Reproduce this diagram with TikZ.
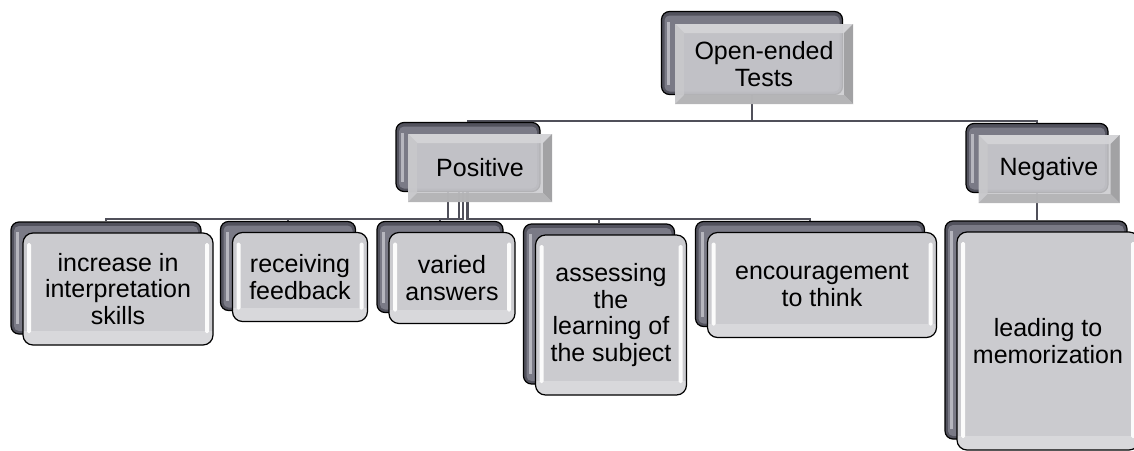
\documentclass[tikz,border=0pt]{standalone}
\usepackage{fontspec}
\setmainfont{Liberation Sans}
\setsansfont{Liberation Sans}
\usetikzlibrary{calc, backgrounds}
\definecolor{cback}{HTML}{52525D}
\definecolor{cbackin}{HTML}{7A7A86}
\definecolor{cbackhi}{HTML}{B6B6BE}
\definecolor{cfront}{HTML}{CBCBCF}
\definecolor{cfrontlo}{HTML}{D8D8DB}
\definecolor{cbevtop}{HTML}{D5D5D8}
\definecolor{cbevleft}{HTML}{C8C8CB}
\definecolor{cbevright}{HTML}{9C9C9E}
\definecolor{cbevbot}{HTML}{B2B2B4}
\definecolor{cline}{HTML}{50505A}
\newcommand{\ppb}{path picture bounding box}
\tikzset{
  every picture/.style={font=\sffamily\fontsize{25}{26.5}\selectfont},
  backbox/.style={draw=black, line width=1.2pt, fill=cback, rounded corners=8pt, inner sep=0pt,
    path picture={
      \fill[cbackin, rounded corners=5pt] ([shift={(3pt,-4pt)}]\ppb.north west) rectangle ([shift={(-3pt,3pt)}]\ppb.south east);
      \fill[cbackhi, sharp corners] ([shift={(5pt,-10pt)}]\ppb.north west) rectangle ([shift={(8pt,10pt)}]\ppb.south west);}},
  frontbox/.style={draw=black, line width=1.2pt, fill=cfront, rounded corners=10pt, inner sep=0pt, align=center,
    path picture={
      \fill[cfrontlo, sharp corners] ([yshift=14pt]\ppb.south west) rectangle (\ppb.south east);
      \fill[white!92!cfront, rounded corners=1.5pt] ([shift={(4pt,-10pt)}]\ppb.north west) rectangle ([shift={(8pt,12pt)}]\ppb.south west);
      \fill[white!92!cfront, rounded corners=1.5pt] ([shift={(-8pt,-10pt)}]\ppb.north east) rectangle ([shift={(-4pt,12pt)}]\ppb.south east);}},
  bevelbox/.style={fill=cfront, fill opacity=0.88, text opacity=1, inner sep=0pt, align=center,
    path picture={
      \fill[cbevtop] (\ppb.north west) -- (\ppb.north east) -- ([shift={(-9pt,-9pt)}]\ppb.north east) -- ([shift={(9pt,-9pt)}]\ppb.north west) -- cycle;
      \fill[cbevleft] (\ppb.north west) -- ([shift={(9pt,-9pt)}]\ppb.north west) -- ([shift={(9pt,9pt)}]\ppb.south west) -- (\ppb.south west) -- cycle;
      \fill[cbevright] (\ppb.north east) -- ([shift={(-9pt,-9pt)}]\ppb.north east) -- ([shift={(-9pt,9pt)}]\ppb.south east) -- (\ppb.south east) -- cycle;
      \fill[cbevbot] (\ppb.south west) -- ([shift={(9pt,9pt)}]\ppb.south west) -- ([shift={(-9pt,9pt)}]\ppb.south east) -- (\ppb.south east) -- cycle;}},
  conn/.style={draw=cline, line width=1.8pt},
}

\begin{document}
\begin{tikzpicture}[x=1pt, y=-1pt]
  \useasboundingbox (0,0) rectangle (1134,450);

  % ---- top level
  \node[backbox, minimum width=181pt, minimum height=83pt] (tests-b) at (752,53) {};
  \node[bevelbox, minimum width=178pt, minimum height=80pt] (tests) at (764,64) {Open-ended\\Tests};

  \node[backbox, minimum width=144pt, minimum height=69pt] (pos-b) at (468,157) {};
  \node[bevelbox, minimum width=144pt, minimum height=68pt] (pos) at (480,168) {Positive};

  \node[backbox, minimum width=142pt, minimum height=69pt] (neg-b) at (1037,158) {};
  \node[bevelbox, minimum width=141pt, minimum height=68pt] (neg) at (1049,169) {Negative};

  % ---- leaves
  \foreach \n/\x/\y/\w/\h/\t in {interp/118/289/190/112/{increase in\\interpretation\\skills},
                                 feedb/300/277/135/89/{receiving\\feedback},
                                 varied/452/278/126/91/{varied\\answers},
                                 assess/611/315/151/160/{assessing\\the\\learning of\\the subject},
                                 encour/822/285/229/105/{encouragement\\to think},
                                 memor/1048/341/182/218/{leading to\\memorization}}
    { \node[backbox, minimum width=\w pt, minimum height=\h pt] (\n-b) at (\x-12,\y-11) {};
      \node[frontbox, minimum width=\w pt, minimum height=\h pt] (\n) at (\x,\y) {\t}; }

  % ---- connectors, behind the boxes
  \begin{scope}[on background layer]
    \fill[white] (0,0) rectangle (1134,450);
    \draw[conn] (tests-b.south) -- ++(0,26) -| (pos-b.north);
    \draw[conn] (tests-b.south) -- ++(0,26) -| (neg-b.north);
    \foreach \n/\d in {interp/-20, feedb/-9, varied/-5, assess/-1, encour/0}
      \draw[conn] ($(pos-b.south)+(\d,0)$) -- ++(0,27) -| (\n-b.north);
    \draw[conn] (neg-b.south) -- (neg-b.south |- memor-b.north);
  \end{scope}
\end{tikzpicture}
\end{document}
